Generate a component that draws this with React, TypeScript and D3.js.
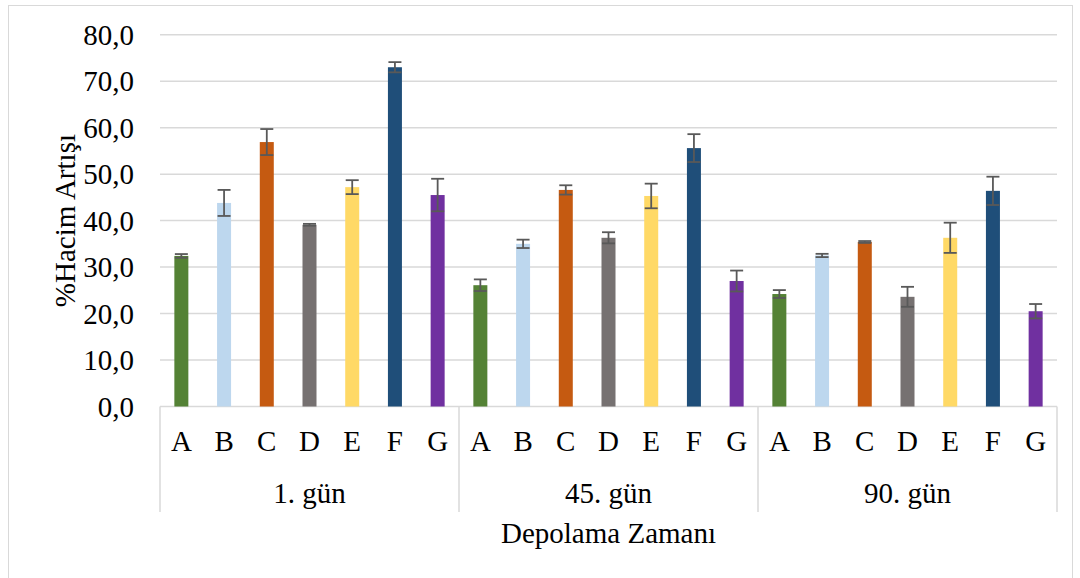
import { useEffect, useRef } from 'react';
import * as d3 from 'd3';

const groups = ['1. gün', '45. gün', '90. gün'];
const samples = ['A', 'B', 'C', 'D', 'E', 'F', 'G'];
const colors = ['#548235', '#BDD7EE', '#C55A11', '#767171', '#FFD966', '#1F4E79', '#7030A0'];

const day1 = [32.4, 43.8, 56.9, 39.1, 47.2, 73.0, 45.5];
const day45 = [26.1, 35.0, 46.6, 36.3, 45.3, 55.6, 27.0];
const day90 = [24.2, 32.5, 35.4, 23.6, 36.3, 46.4, 20.5];

const err1 = [0.4, 2.8, 2.8, 0.2, 1.5, 1.1, 3.5];
const err45 = [1.25, 0.9, 1.0, 1.2, 2.65, 3.0, 2.25];
const err90 = [0.85, 0.35, 0.2, 2.15, 3.25, 3.05, 1.55];

const yTicks = [0, 10, 20, 30, 40, 50, 60, 70, 80];

const W = 1080;
const H = 578;
const FONT = "'Liberation Serif', 'Times New Roman', Times, 'DejaVu Serif', serif";

export default function App() {
  const svgRef = useRef(null);

  useEffect(() => {
    const svg = d3.select(svgRef.current);
    svg.selectAll('*').remove();

    const left = 160, right = 1057, top = 34.7, bottom = 406.5;

    const x0 = d3.scaleBand().domain(groups).range([left, right]).padding(0);
    const x1 = d3.scaleBand().domain(samples).range([0, x0.bandwidth()]).padding(0);
    const y = d3.scaleLinear().domain([0, 80]).range([bottom, top]);
    const barW = 14;

    // chart border
    svg.append('rect')
      .attr('x', 8.5).attr('y', 5.5)
      .attr('width', 1064).attr('height', 600)
      .attr('fill', 'none').attr('stroke', '#d9d9d9').attr('stroke-width', 1);

    // gridlines
    svg.append('g')
      .selectAll('line')
      .data(yTicks)
      .join('line')
      .attr('x1', left).attr('x2', right)
      .attr('y1', d => y(d)).attr('y2', d => y(d))
      .attr('stroke', '#d9d9d9').attr('stroke-width', 1.5);

    // y tick labels
    svg.append('g')
      .selectAll('text')
      .data(yTicks)
      .join('text')
      .attr('x', 134)
      .attr('y', d => y(d))
      .attr('dy', '0.35em')
      .attr('text-anchor', 'end')
      .attr('font-family', FONT)
      .attr('font-size', 29)
      .attr('fill', '#000')
      .text(d => d3.format('.1f')(d).replace('.', ','));

    const series = [
      { vals: day1, errs: err1 },
      { vals: day45, errs: err45 },
      { vals: day90, errs: err90 },
    ];

    groups.forEach((g, gi) => {
      const gx = x0(g);
      const data = samples.map((s, i) => ({
        s, v: series[gi].vals[i], e: series[gi].errs[i], c: colors[i],
      }));
      const gg = svg.append('g').attr('transform', `translate(${gx},0)`);
      const cx = d => x1(d.s) + x1.bandwidth() / 2;

      gg.selectAll('rect')
        .data(data)
        .join('rect')
        .attr('x', d => cx(d) - barW / 2)
        .attr('y', d => y(d.v))
        .attr('width', barW)
        .attr('height', d => y(0) - y(d.v))
        .attr('fill', d => d.c);

      // error bars
      const eb = gg.selectAll('g.err')
        .data(data)
        .join('g')
        .attr('class', 'err')
        .attr('stroke', '#595959')
        .attr('stroke-width', 1.8);
      eb.append('line')
        .attr('x1', cx).attr('x2', cx)
        .attr('y1', d => y(d.v + d.e))
        .attr('y2', d => y(d.v - d.e));
      eb.append('line')
        .attr('x1', d => cx(d) - 6.5).attr('x2', d => cx(d) + 6.5)
        .attr('y1', d => y(d.v + d.e))
        .attr('y2', d => y(d.v + d.e));
      eb.append('line')
        .attr('x1', d => cx(d) - 6.5).attr('x2', d => cx(d) + 6.5)
        .attr('y1', d => y(d.v - d.e))
        .attr('y2', d => y(d.v - d.e));

      // sample letters
      gg.selectAll('text.cat')
        .data(samples)
        .join('text')
        .attr('class', 'cat')
        .attr('x', d => x1(d) + x1.bandwidth() / 2)
        .attr('y', 451)
        .attr('text-anchor', 'middle')
        .attr('font-family', FONT)
        .attr('font-size', 29)
        .attr('fill', '#000')
        .text(d => d);

      gg.append('text')
        .attr('x', x0.bandwidth() / 2)
        .attr('y', 503)
        .attr('text-anchor', 'middle')
        .attr('font-family', FONT)
        .attr('font-size', 29)
        .attr('fill', '#000')
        .text(g);
    });

    // group separators
    const seps = [...groups.map(g => x0(g)), right];
    svg.append('g')
      .selectAll('line')
      .data(seps)
      .join('line')
      .attr('x1', d => d).attr('x2', d => d)
      .attr('y1', bottom).attr('y2', 512)
      .attr('stroke', '#d9d9d9').attr('stroke-width', 1.5);

    // axis titles
    svg.append('text')
      .attr('x', (left + right) / 2)
      .attr('y', 543)
      .attr('text-anchor', 'middle')
      .attr('font-family', FONT)
      .attr('font-size', 29)
      .attr('fill', '#000')
      .text('Depolama Zamanı');

    svg.append('text')
      .attr('transform', `translate(75,${(top + bottom) / 2}) rotate(-90)`)
      .attr('text-anchor', 'middle')
      .attr('font-family', FONT)
      .attr('font-size', 29)
      .attr('fill', '#000')
      .text('%Hacim Artışı');
  }, []);

  return (
    <svg
      ref={svgRef}
      width={W}
      height={H}
      style={{ position: 'absolute', left: 0, top: 0, background: '#fff' }}
    />
  );
}
